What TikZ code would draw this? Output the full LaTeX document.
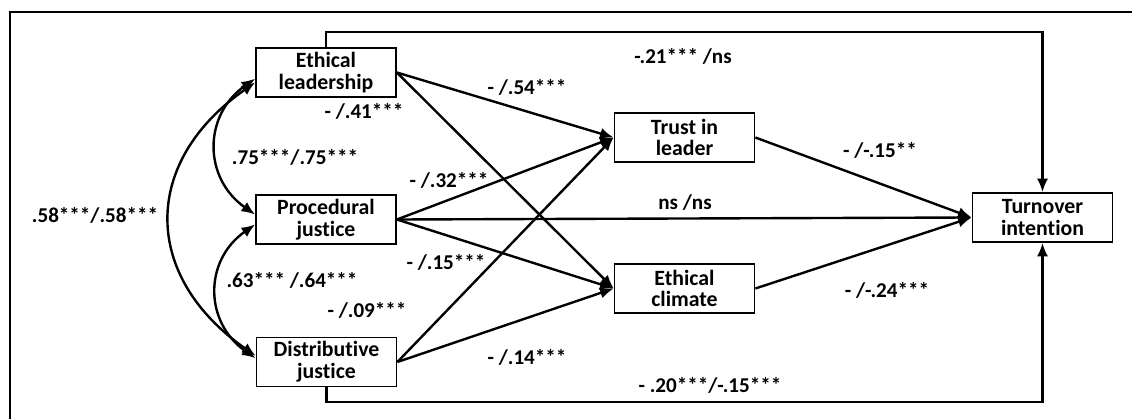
\documentclass[tikz,border=0pt]{standalone}
\usepackage{fontspec}
\setmainfont{Carlito}[Ligatures=NoCommon]
\usepackage{tikz}
\usetikzlibrary{positioning}
\usetikzlibrary{arrows.meta}

\begin{document}
\begin{tikzpicture}
                [x=0.025cm, y=0.025cm,
                box/.style = {draw, line width=1.2pt, minimum width=3.5cm, minimum height=1.225cm, align=center, inner sep=1pt, font=\fontsize{15.5}{15.5}\selectfont\bfseries},
                lab/.style = {inner sep=0pt, font=\fontsize{15}{16}\selectfont\bfseries},
                conn/.style = {line width=1.7pt, -{Latex[length=3.4mm, width=2.8mm]}},
                corr/.style = {line width=1.7pt, {Latex[length=3.4mm, width=2.8mm]}-{Latex[length=3.4mm, width=2.8mm]}}]
                \useasboundingbox (0,0) rectangle (1132,-419);
                % Frame
                \draw[line width=1.3pt] (10,-419) -- (10,-12) -- (1132,-12);
                % Predictors
                \node[box] (EL) at (326,-72.5) {Ethical\\leadership};
                \node[box] (PJ) at (326,-219.5) {Procedural\\justice};
                \node[box] (DJ) at (326.5,-362) {Distributive\\justice};
                % Mediators
                \node[box] (TL) at (684.5,-137.5) {Trust in\\leader};
                \node[box] (EC) at (684.5,-288.5) {Ethical\\climate};
                % Outcome
                \node[box] (TI) at (1042.5,-217.5) {Turnover\\intention};

                % Paths
                \path[conn] (EL.east) edge (TL.west);
                \path[conn] (EL.east) edge (EC.west);
                \path[conn] (PJ.east) edge (TL.west);
                \path[conn] (PJ.east) edge (TI.west);
                \path[conn] (PJ.east) edge (EC.west);
                \path[conn] (DJ.east) edge (TL.west);
                \path[conn] (DJ.east) edge (EC.west);
                \path[conn] (TL.east) edge (TI.west);
                \path[conn] (EC.east) edge (TI.west);
                % Direct paths round the frame
                \coordinate (top) at (0,-32);
                \coordinate (bot) at (0,-402);
                \draw[conn] (EL.north) -- (EL.north |- top) -| (TI.north);
                \draw[conn] (DJ.south) -- (DJ.south |- bot) -| (TI.south);
                % Correlations
                \draw[corr] (EL.185) to[out=215, in=145, looseness=1.2] (PJ.176);
                \draw[corr] (PJ.184) to[out=215, in=145, looseness=1.2] (DJ.177);
                \draw[corr] (EL.188) to[out=215, in=145, looseness=1.3] (DJ.175);

                % Coefficients
                \node[lab] (l1) at (683,-56) {-.21*** /ns};
                \node[lab] (l2) at (527,-87) {- /.54***};
                \node[lab] (l3) at (364,-111) {- /.41***};
                \node[lab] (l4) at (295,-157) {.75***/.75***};
                \node[lab] (l5) at (449,-180) {- /.32***};
                \node[lab] (l6) at (685,-203) {ns /ns};
                \node[lab] (l7) at (95,-215) {.58***/.58***};
                \node[lab] (l8) at (446,-262) {- /.15***};
                \node[lab] (l9) at (292,-280) {.63*** /.64***};
                \node[lab] (l10) at (367,-310) {- /.09***};
                \node[lab] (l11) at (527,-357) {- /.14***};
                \node[lab] (l12) at (710,-385) {- .20***/-.15***};
                \node[lab] (l13) at (880,-150) {- /-.15**};
                \node[lab] (l14) at (887,-290) {- /-.24***};
            \end{tikzpicture}
\end{document}
